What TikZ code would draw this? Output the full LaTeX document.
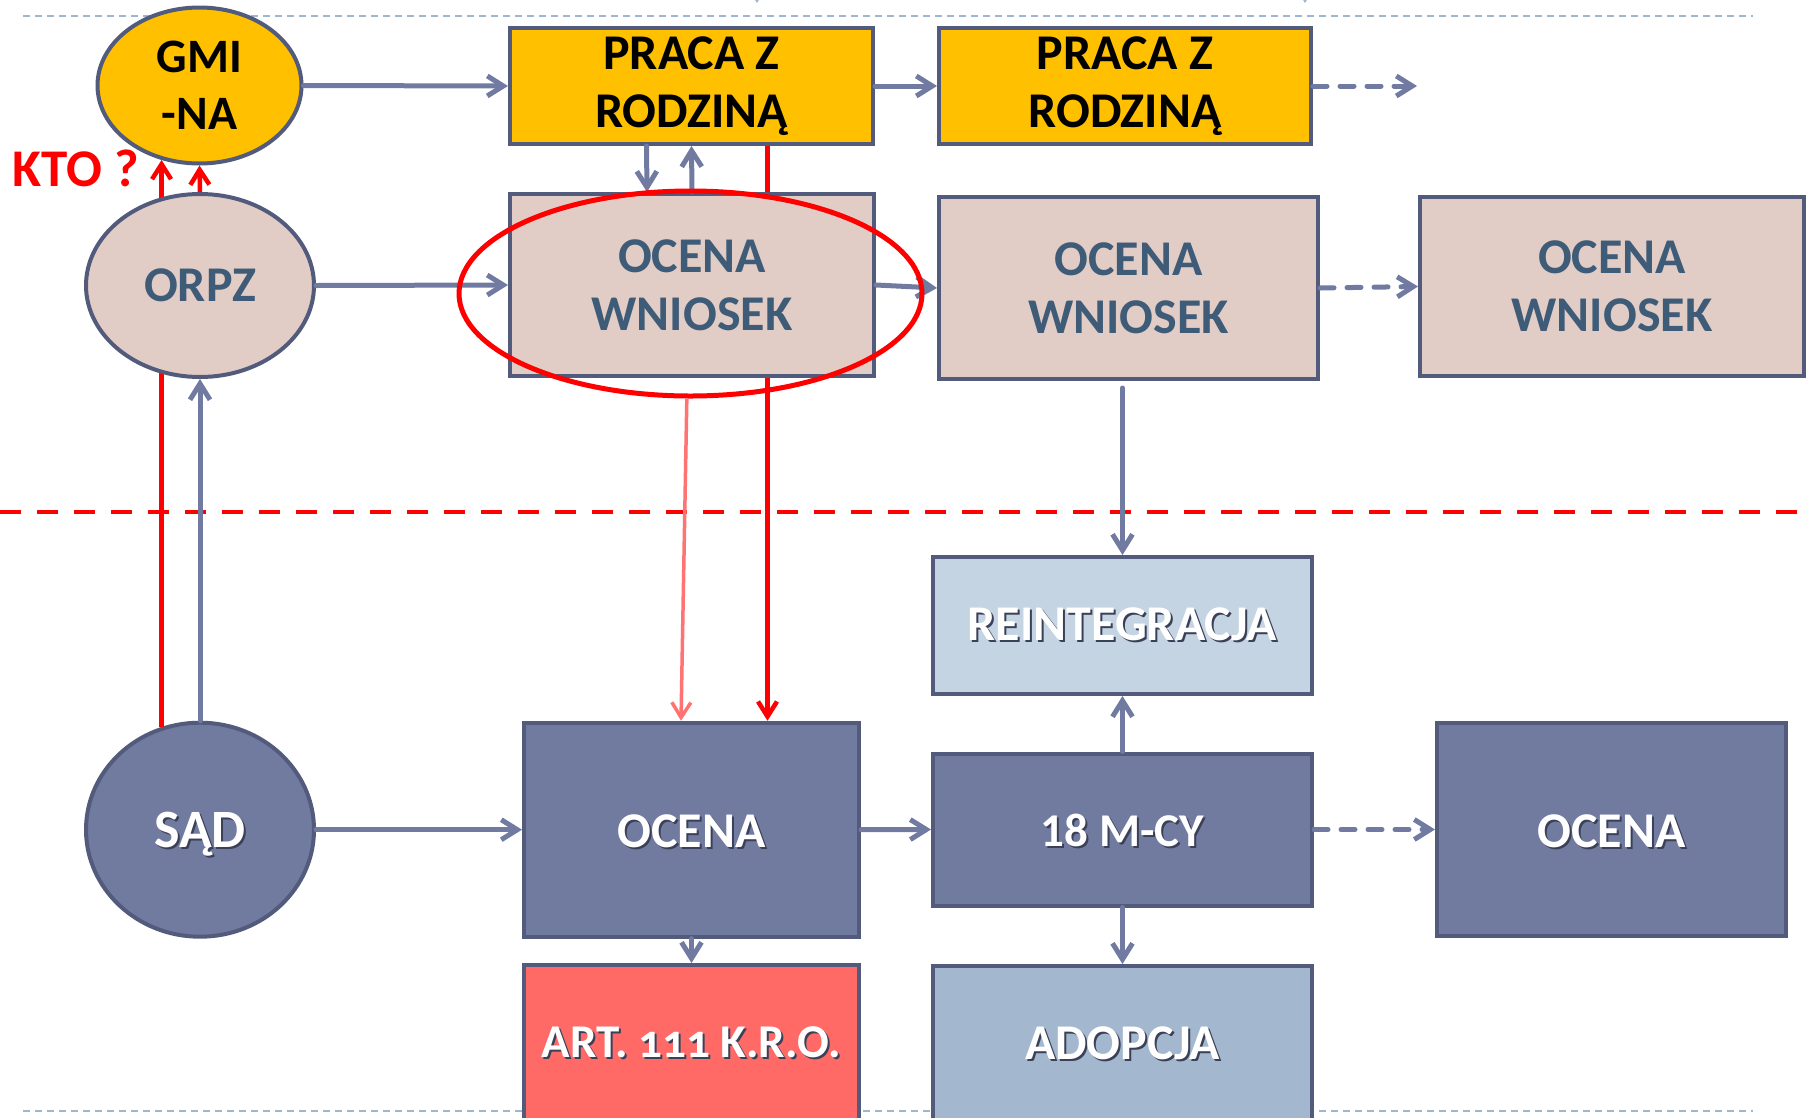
\documentclass[tikz,border=0pt]{standalone}
\usepackage{fontspec}
\setmainfont{Carlito}
\usetikzlibrary{arrows.meta,shapes.geometric}
\definecolor{yel}{HTML}{FFC000}
\definecolor{bord}{HTML}{525B7C}
\definecolor{arr}{HTML}{717AA0}
\definecolor{beige}{HTML}{E2CDC6}
\definecolor{txtblue}{HTML}{3E5B78}
\definecolor{darkbox}{HTML}{717BA0}
\definecolor{reint}{HTML}{C4D4E2}
\definecolor{adop}{HTML}{A3B8CF}
\definecolor{artc}{HTML}{FF6A66}
\definecolor{pinkarr}{HTML}{FF7373}
\definecolor{dotc}{HTML}{9EB6CE}
\definecolor{shad}{HTML}{3A4058}
\newcommand\sh[1]{\leavevmode\rlap{\hspace{2pt}\raisebox{-2pt}{\color{shad}#1}}#1}
\newcommand\lowr[2]{\raisebox{-#1}[\height][\depth]{#2}}
\newcommand\fbig{\fontsize{50}{58}\selectfont\bfseries}
\tikzset{
  box/.style={rectangle, draw=bord, line width=4pt, inner sep=0pt, align=center, font=\fbig},
  oval/.style={ellipse, draw=bord, line width=4pt, inner sep=0pt, align=center, font=\fbig},
  conn/.style={draw=arr, line width=5pt, line cap=round,
    -{Straight Barb[length=16pt,width=20pt,line width=5pt]}},
  dconn/.style={conn, dash pattern=on 14pt off 13pt},
  redconn/.style={draw=red, line width=4.5pt,
    -{Straight Barb[length=15pt,width=19pt,line width=4.5pt]}},
  pinkconn/.style={draw=pinkarr, line width=3.5pt,
    -{Straight Barb[length=15pt,width=19pt,line width=3.5pt]}},
  thindot/.style={draw=dotc, line width=2pt, dash pattern=on 7pt off 5pt},
}
\begin{document}
\begin{tikzpicture}[x=1pt,y=-1pt]
\useasboundingbox (0,0) rectangle (1808,1117);
% guide lines
\draw[thindot] (23,16) -- (1753,16);
\draw[thindot] (23,1111) -- (1753,1111);
\draw[red, line width=4.5pt, dash pattern=on 21pt off 16pt] (0,512) -- (1808,512);
% partially visible arrows from above
\coordinate (t1a) at (757,-40); \coordinate (t1b) at (757,3);
\coordinate (t2a) at (1305,-40); \coordinate (t2b) at (1305,3);
\draw[conn, draw=dotc, line width=3pt] (t1a) -- (t1b);
\draw[conn, draw=dotc, line width=3pt] (t2a) -- (t2b);
% first nodes
\node[oval, fill=yel, minimum width=204pt, minimum height=156pt, font=\fontsize{48}{57}\selectfont\bfseries] (gmi) at (199.5,85.5) {GMI\\-NA};
\node[box, fill=yel, minimum width=363pt, minimum height=116pt] (praca1) at (691.5,86) {PRACA Z\\RODZINĄ};
\node[oval, fill=darkbox, text=white, minimum width=228pt, minimum height=214pt, font=\fontsize{54}{60}\selectfont\bfseries] (sad) at (200,829.7) {\lowr{5pt}{\sh{SĄD}}};
\node[box, fill=darkbox, text=white, minimum width=335pt, minimum height=214pt] (ocL) at (691.5,829.7) {\lowr{3pt}{\sh{OCENA}}};
% red lines that pass behind ORPZ and OCENA WNIOSEK
\draw[redconn] (gmi.243 |- sad.110) -- (gmi.243);
\draw[redconn] ([xshift=76pt]praca1.south) -- ([xshift=76pt]ocL.north);
% covering nodes
\node[oval, fill=beige, text=txtblue, minimum width=228pt, minimum height=183pt] (orpz) at (200,285.5) {ORPZ};
\node[box, fill=beige, text=txtblue, minimum width=364pt, minimum height=182pt] (ow1) at (692,285) {OCENA\\WNIOSEK};
% other nodes
\node[box, fill=yel, minimum width=372pt, minimum height=116pt] (praca2) at (1125,86) {PRACA Z\\RODZINĄ};
\node[box, fill=beige, text=txtblue, minimum width=379pt, minimum height=182pt] (ow2) at (1128.5,288) {OCENA\\WNIOSEK};
\node[box, fill=beige, text=txtblue, minimum width=384pt, minimum height=179pt] (ow3) at (1612,286.5) {OCENA\\WNIOSEK};
\node[box, fill=reint, text=white, minimum width=379pt, minimum height=137pt] (reint) at (1122.5,625.5) {\sh{REINTEGRACJA}};
\node[box, fill=darkbox, text=white, minimum width=379pt, minimum height=152pt, font=\fontsize{47}{57}\selectfont\bfseries] (mcy) at (1122.5,829.5) {\lowr{2pt}{\sh{18 M-CY}}};
\node[box, fill=adop, text=white, minimum width=379pt, minimum height=156pt] (adop) at (1122.5,1044) {\sh{ADOPCJA}};
\node[box, fill=artc, text=white, minimum width=335pt, minimum height=157pt, font=\fontsize{47}{57}\selectfont\bfseries\addfontfeatures{Numbers=OldStyle}] (art) at (691.5,1043.5) {\sh{ART. 111 K.R.O.}};
\node[box, fill=darkbox, text=white, minimum width=349pt, minimum height=213pt] (ocR) at (1611.5,829.5) {\lowr{3pt}{\sh{OCENA}}};
\coordinate (pend) at (1417,86);
% connectors
\draw[conn] (gmi.east) -- (praca1.west);
\draw[conn] (praca1.east) -- (praca2.west);
\draw[dconn] (praca2.east) -- (pend);
\draw[conn] (orpz.east) -- (ow1.west);
\draw[conn] (ow1.east) -- (ow2.west);
\draw[dconn] (ow2.east) -- (ow3.west);
\draw[conn] ([xshift=-45pt]praca1.south) -- ([xshift=-45pt]ow1.north);
\draw[conn] (ow1.north) -- (praca1.south);
\draw[conn] ([yshift=-7pt]ow2.south -| reint.north) -- (reint.north);
\draw[conn] (sad.north) -- (orpz.south);
\draw[conn] (sad.east) -- (ocL.west);
\draw[conn] (ocL.east) -- (mcy.west);
\draw[conn] (mcy.north) -- (reint.south);
\draw[conn] (mcy.south) -- (adop.north);
\draw[dconn] (mcy.east) -- (ocR.west);
\draw[conn] (ocL.south) -- (art.north);
\draw[redconn] (orpz.north) -- (gmi.south);
% red highlight ellipse
\node[ellipse, draw=red, line width=5pt, minimum width=463pt, minimum height=205pt] (circ) at (690.5,293.5) {};
\draw[pinkconn] (circ.268) -- ([xshift=-10.5pt]ocL.north);
\node[text=red, font=\fontsize{53}{60}\selectfont\bfseries] (kto) at (76,168) {KTO ?};
\end{tikzpicture}
\end{document}
